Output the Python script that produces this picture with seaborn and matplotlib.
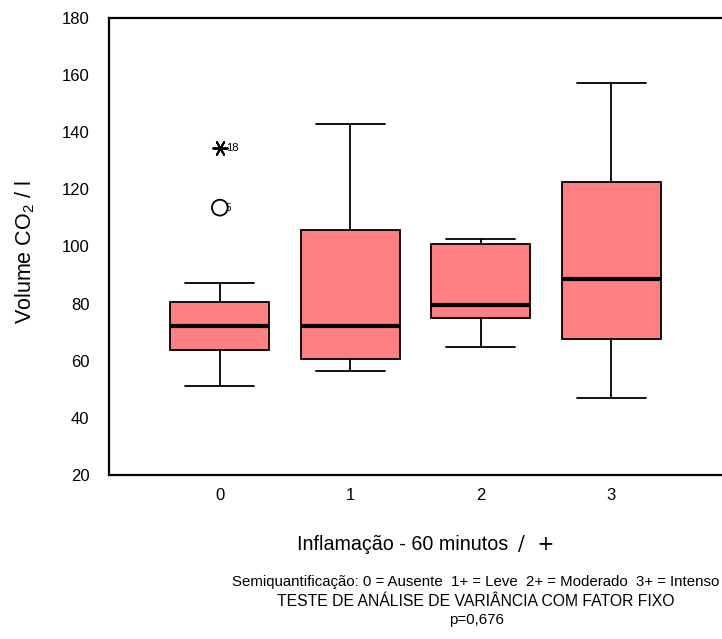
import numpy as np
import pandas as pd
import matplotlib
matplotlib.use("Agg")
import matplotlib.pyplot as plt
import seaborn as sns

# box summary values (Volume CO2 / l)
grades = ["0", "1", "2", "3"]
whisker_low = [51.1, 56.4, 64.9, 46.9]
q1 = [63.7, 60.6, 74.9, 67.6]
median = [72.1, 72.1, 79.6, 88.7]
q3 = [80.4, 105.8, 101.0, 122.6]
whisker_high = [87.1, 142.9, 102.6, 157.3]

# outliers in group 0 (SPSS case numbers)
outlier_grade = ["0", "0"]
outlier_value = [134.4, 113.6]
outlier_case = ["18", "5"]
outlier_kind = ["extremo", "atipico"]

BOX_COLOR = "#FF8080"

sns.set_theme(style="white")
plt.rcParams["font.family"] = ["Liberation Sans", "DejaVu Sans"]
plt.rcParams["mathtext.fontset"] = "custom"
plt.rcParams["mathtext.rm"] = "Liberation Sans"
plt.rcParams["mathtext.it"] = "Liberation Sans:italic"
plt.rcParams["text.color"] = "black"
plt.rcParams["axes.labelcolor"] = "black"
plt.rcParams["xtick.color"] = "black"
plt.rcParams["ytick.color"] = "black"

rows = []
for i, g in enumerate(grades):
    for v in (whisker_low[i], q1[i], median[i], q3[i], whisker_high[i]):
        rows.append({"grau": g, "volume": v})
df = pd.DataFrame(rows)
df_out = pd.DataFrame({"grau": outlier_grade, "volume": outlier_value,
                       "caso": outlier_case, "tipo": outlier_kind})

fig = plt.figure(figsize=(7.22, 6.39), dpi=100)
ax = fig.add_axes([109 / 722, 1 - 475 / 639, 1 - 109 / 722, (475 - 18) / 639])

sns.boxplot(data=df, x="grau", y="volume", order=grades, color=BOX_COLOR,
            saturation=1, width=0.76, whis=(0, 100), showfliers=False,
            linecolor="black", linewidth=1.3,
            medianprops=dict(linewidth=3.0, color="black"),
            capwidths=0.53, ax=ax)

ext = df_out[df_out["tipo"] == "extremo"]
atp = df_out[df_out["tipo"] == "atipico"]
sns.scatterplot(data=ext, x="grau", y="volume", marker=(6, 2, 90),
                s=110, color="black", linewidth=1.4, legend=False, ax=ax)
sns.scatterplot(data=atp, x="grau", y="volume", marker="o",
                s=130, facecolor="none", edgecolor="black", linewidth=1.3,
                legend=False, ax=ax)
for _, r in df_out.iterrows():
    xi = grades.index(r["grau"])
    fs = 8 if r["tipo"] == "extremo" else 7
    dx = 0.045 if r["tipo"] == "extremo" else 0.04
    ax.text(xi + dx, r["volume"], r["caso"], fontsize=fs,
            ha="left", va="center")

ax.set_xlim(-0.85, 3.85)
ax.set_ylim(20, 180)
ax.set_yticks(range(20, 181, 20))
ax.set_xlabel("")
ax.set_ylabel("")
ax.tick_params(axis="both", direction="out", length=3, width=2.5,
               colors="black", labelsize=12)
ax.tick_params(axis="x", pad=6)
ax.tick_params(axis="y", pad=11)
for side in ("left", "top", "bottom"):
    ax.spines[side].set_linewidth(1.6)
    ax.spines[side].set_color("black")
ax.spines["right"].set_visible(False)

fig.text(25 / 722, 1 - 252 / 639, "Volume CO$_\\mathrm{2}$ / l", rotation=90,
         fontsize=15.5, ha="center", va="center")

fig.text(508 / 722, 1 - 544 / 639, "Inflamação - 60 minutos", fontsize=14.2,
         ha="right", va="center")
fig.text(518 / 722, 1 - 544 / 639, "/  +", fontsize=14.5, ha="left",
         va="center", family=["DejaVu Serif", "Liberation Serif"])

fig.text(476 / 722, 1 - 582 / 639,
         "Semiquantificação: 0 = Ausente  1+ = Leve  2+ = Moderado  3+ = Intenso",
         fontsize=10.8, ha="center", va="center")
fig.text(476 / 722, 1 - 601 / 639,
         "TESTE DE ANÁLISE DE VARIÂNCIA COM FATOR FIXO",
         fontsize=11.3, ha="center", va="center")
fig.text(476 / 722, 1 - 620 / 639, "p=0,676", fontsize=10.8,
         ha="center", va="center")

fig.savefig("out.png", dpi=100)
